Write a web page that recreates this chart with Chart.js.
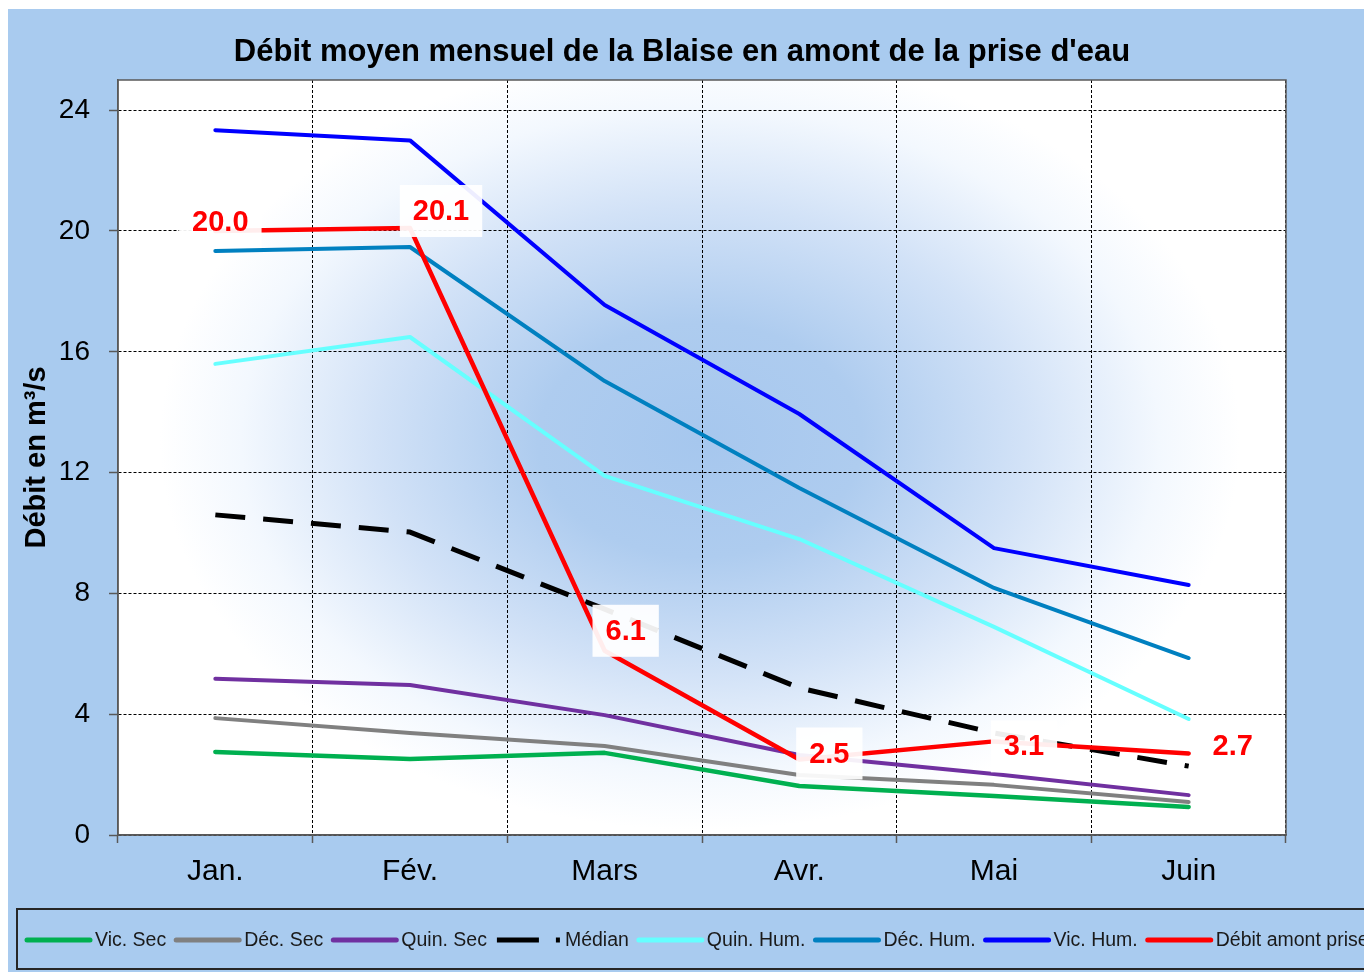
<!DOCTYPE html>
<html><head><meta charset="utf-8">
<script src="https://cdn.jsdelivr.net/npm/chart.js@4.4.1/dist/chart.umd.min.js"></script>
<style>html,body{margin:0;padding:0;background:#fff;overflow:hidden;} canvas{display:block;}</style>
</head><body>
<canvas id="c" width="1364" height="972"></canvas>
<script>
// ---- Data ----
const months = ['Jan.', 'Fév.', 'Mars', 'Avr.', 'Mai', 'Juin'];
const vicSec = [2.75, 2.52, 2.72, 1.62, 1.29, 0.93];
const decSec = [3.87, 3.38, 2.95, 1.99, 1.66, 1.09];
const quinSec = [5.17, 4.97, 3.97, 2.65, 2.02, 1.32];
const median = [10.6, 10.03, 7.48, 4.87, 3.38, 2.28];
const quinHum = [15.6, 16.49, 11.89, 9.8, 6.89, 3.84];
const decHum = [19.34, 19.47, 15.03, 11.49, 8.18, 5.86];
const vicHum = [23.34, 23.0, 17.55, 13.94, 9.5, 8.28];
const debitAmont = [20.0, 20.1, 6.1, 2.5, 3.1, 2.7];
const yTicks = [0, 4, 8, 12, 16, 20, 24];

const FONT = '"Liberation Sans", Arial, sans-serif';

const bgPlugin = {
  id: 'bg',
  beforeDraw(chart) {
    const ctx = chart.ctx, a = chart.chartArea;
    ctx.save();
    ctx.fillStyle = '#ffffff';
    ctx.fillRect(0, 0, chart.width, chart.height);
    ctx.fillStyle = '#A9CBEF';
    ctx.fillRect(8, 9, chart.width - 8, chart.height - 9);
    ctx.fillStyle = '#ffffff';
    ctx.fillRect(a.left, a.top, a.right - a.left, a.bottom - a.top);
    ctx.beginPath();
    ctx.rect(a.left, a.top, a.right - a.left, a.bottom - a.top);
    ctx.clip();
    const cx = 700, cy = 440, rx = 540, ry = 390;
    ctx.translate(cx, cy);
    ctx.scale(1, ry / rx);
    const g = ctx.createRadialGradient(0, 0, 0, 0, 0, rx);
    g.addColorStop(0, 'rgba(166,199,238,1)');
    g.addColorStop(0.3, 'rgba(174,204,239,1)');
    g.addColorStop(0.6, 'rgba(210,226,247,1)');
    g.addColorStop(0.85, 'rgba(243,248,254,1)');
    g.addColorStop(1, 'rgba(255,255,255,1)');
    ctx.fillStyle = g;
    ctx.fillRect(-rx * 1.5, -rx * 1.5, rx * 3, rx * 3);
    ctx.restore();
  },
  afterDraw(chart) {
    const ctx = chart.ctx, a = chart.chartArea;
    ctx.save();
    ctx.strokeStyle = '#595959';
    ctx.lineWidth = 1.5;
    ctx.strokeRect(a.left, a.top, a.right - a.left, a.bottom - a.top);
    ctx.restore();
  }
};

const labelPlugin = {
  id: 'redLabels',
  afterDatasetsDraw(chart, args, opts) {
    const ctx = chart.ctx;
    const idx = chart.data.datasets.findIndex(d => d.label.startsWith('Débit'));
    const meta = chart.getDatasetMeta(idx);
    const data = chart.data.datasets[idx].data;
    ctx.save();
    ctx.font = 'bold 29px ' + FONT;
    ctx.textAlign = 'center';
    ctx.textBaseline = 'middle';
    meta.data.forEach((pt, i) => {
      const txt = data[i].toFixed(1);
      const s = opts.shift[i];
      const x = pt.x + s[0], y = pt.y + s[1];
      const w = ctx.measureText(txt).width + 26, h = 52;
      ctx.fillStyle = 'rgba(255,255,255,0.93)';
      ctx.fillRect(x - w / 2, y - h / 2, w, h);
      ctx.fillStyle = '#FF0000';
      ctx.fillText(txt, x, y + 1);
    });
    ctx.restore();
  }
};

const legendPlugin = {
  id: 'boxLegend',
  afterDraw(chart) {
    const ctx = chart.ctx;
    ctx.save();
    ctx.strokeStyle = '#262626';
    ctx.lineWidth = 2;
    ctx.strokeRect(17, 909, 1400, 60);
    let x = 27;
    const y = 940;
    ctx.font = '19.5px ' + FONT;
    ctx.textBaseline = 'middle';
    ctx.textAlign = 'left';
    chart.data.datasets.forEach(ds => {
      ctx.strokeStyle = ds.borderColor;
      ctx.lineWidth = 5;
      if (ds.borderDash) { ctx.setLineDash([42, 17]); ctx.lineCap = 'butt'; }
      else { ctx.setLineDash([]); ctx.lineCap = 'round'; }
      ctx.beginPath();
      ctx.moveTo(x, y);
      ctx.lineTo(x + 63, y);
      ctx.stroke();
      ctx.setLineDash([]);
      const tx = x + 68;
      ctx.fillStyle = '#1a1a1a';
      ctx.fillText(ds.label, tx, y + 1);
      x = tx + ctx.measureText(ds.label).width + 10;
    });
    ctx.restore();
  }
};

const mk = (label, data, color, width, extra) => Object.assign({
  label, data, borderColor: color, backgroundColor: color, borderWidth: width,
  pointRadius: 0, pointHoverRadius: 0, tension: 0, fill: false,
  borderCapStyle: 'round', borderJoinStyle: 'round'
}, extra || {});

const datasets = [
  mk('Vic. Sec', vicSec, '#00B050', 4.5),
  mk('Déc. Sec', decSec, '#808080', 4),
  mk('Quin. Sec', quinSec, '#7030A0', 4),
  mk('Médian', median, '#000000', 5, { borderDash: [30, 18], borderCapStyle: 'butt' }),
  mk('Quin. Hum.', quinHum, '#66FFFF', 4),
  mk('Déc. Hum.', decHum, '#0080C0', 4),
  mk('Vic. Hum.', vicHum, '#0000FF', 4),
  mk("Débit amont prise d'eau", debitAmont, '#FF0000', 4.5, { order: -1 })
];

new Chart(document.getElementById('c'), {
  type: 'line',
  data: { labels: months, datasets },
  plugins: [bgPlugin, labelPlugin, legendPlugin],
  options: {
    responsive: false,
    animation: false,
    devicePixelRatio: 1,
    events: [],
    layout: { padding: { left: 0, right: 0, top: 5, bottom: 67 } },
    plugins: {
      legend: { display: false },
      tooltip: { enabled: false },
      title: {
        display: true,
        text: "Débit moyen mensuel de la Blaise en amont de la prise d'eau",
        color: '#000000',
        font: { family: FONT, size: 31, weight: 'bold', lineHeight: 1 },
        padding: { top: 32, bottom: 12 }
      },
      redLabels: { shift: [[5, -9], [31, -17], [21, -20], [30, -6], [30, 5], [44, -7]] }
    },
    scales: {
      x: {
        type: 'category',
        offset: true,
        grid: { display: true, offset: true, color: '#000000', lineWidth: 1, tickLength: 8, tickColor: '#595959', tickWidth: 1.5, drawOnChartArea: true },
        border: { display: true, color: '#595959', width: 1.5, dash: [3, 2] },
        ticks: { color: '#000000', font: { family: FONT, size: 30 }, padding: 11, maxRotation: 0 },
        afterFit(s) { s.height = 70; }
      },
      y: {
        min: 0, max: 25,
        afterBuildTicks(s) { s.ticks = yTicks.map(v => ({ value: v })); },
        grid: { color: '#000000', lineWidth: 1, tickLength: 9, tickColor: '#595959', tickWidth: 1.5 },
        border: { display: true, color: '#595959', width: 1.5, dash: [3, 2] },
        ticks: { color: '#000000', font: { family: FONT, size: 28 }, padding: 19 },
        title: {
          display: true, text: 'Débit en m³/s', color: '#000000',
          font: { family: FONT, size: 29, weight: 'bold', lineHeight: 1.2 },
          padding: { top: 20, bottom: 0 }
        },
        afterFit(s) { s.width = 118; }
      },
      yRight: {
        position: 'right', display: true, min: 0, max: 25,
        grid: { display: false }, border: { display: false }, ticks: { display: false },
        afterFit(s) { s.width = 78; }
      }
    }
  }
});
</script>
</body></html>
